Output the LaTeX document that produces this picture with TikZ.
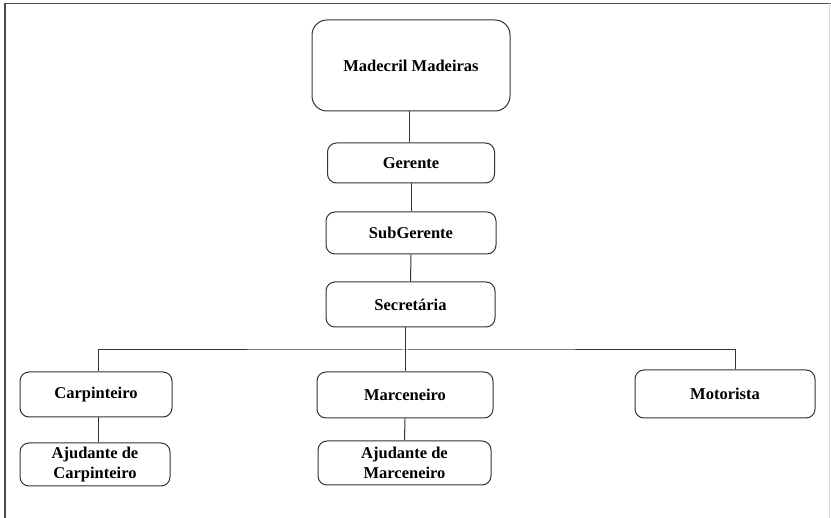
\documentclass[tikz,border=0pt]{standalone}
\usepackage{fontspec}
\setmainfont{Liberation Serif}
\usepackage{xcolor}
\usepackage{tikz}
\usetikzlibrary{positioning}

\begin{document}
\begin{tikzpicture}[x=1pt, y=-1pt,
		cargo/.style={draw=black!80, line width=1pt, rounded corners=9pt, align=center,
			font=\fontsize{16.5}{20.5}\selectfont\bfseries, inner sep=2pt},
		liga/.style={draw=black!80, line width=1pt}]
		\useasboundingbox (0, 0) rectangle (831, 518);

		% moldura
		\draw[black!70, line width=1.2pt] (5, 518) -- (5, 3.5) -- (831, 3.5);
		\draw[black!15, line width=1pt] (829.5, 3.5) -- (829.5, 518);

		\node[cargo, rounded corners=15pt, minimum width=198pt, minimum height=91pt] (empresa) at (411, 65.5) {Madecril Madeiras};
		\node[cargo, minimum width=167pt, minimum height=40pt] (gerente) at (411, 163) {Gerente};
		\node[cargo, minimum width=170pt, minimum height=42pt] (subgerente) at (411, 233) {SubGerente};
		\node[cargo, minimum width=169pt, minimum height=45pt] (secretaria) at (410.5, 304.5) {Secretária};

		\node[cargo, minimum width=152pt, minimum height=45pt] (carpinteiro) at (96, 394.5) {Carpinteiro};
		\node[cargo, minimum width=150pt, minimum height=43pt] (ajudcarp) at (95, 464.5) {Ajudante de\\Carpinteiro};
		\node[cargo, minimum width=176pt, minimum height=46pt] (marceneiro) at (405, 395) {Marceneiro};
		\node[cargo, minimum width=173pt, minimum height=44pt] (ajudmarc) at (404.5, 463) {Ajudante de\\Marceneiro};
		\node[cargo, minimum width=180pt, minimum height=48pt] (motorista) at (725, 394) {Motorista};

		\coordinate (barra) at (405, 350);

		\draw[liga] (empresa.south -| 409, 0) -- (gerente.north -| 409, 0);
		\draw[liga] (gerente) -- (subgerente);
		\draw[liga] (subgerente) -- (secretaria);
		\draw[liga] (secretaria.south -| barra) -- (marceneiro.north);
		\draw[liga] (carpinteiro.north -| 98, 0) |- (barra) -| ([xshift=10pt]motorista.north);
		\draw[liga] (carpinteiro.south -| 98, 0) -- (ajudcarp.north -| 98, 0);
		\draw[liga] (marceneiro) -- (ajudmarc);
	\end{tikzpicture}
\end{document}
